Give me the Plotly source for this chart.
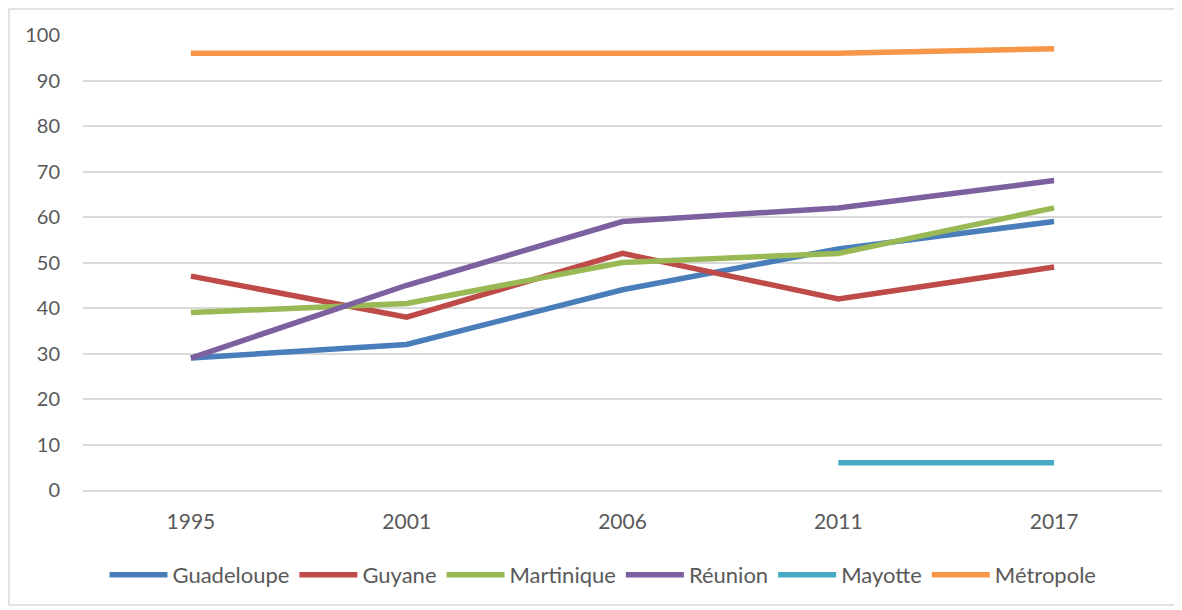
import plotly.graph_objects as go

years = ["1995", "2001", "2006", "2011", "2017"]
guadeloupe = [29, 32, 44, 53, 59]
guyane = [47, 38, 52, 42, 49]
martinique = [39, 41, 50, 52, 62]
reunion = [29, 45, 59, 62, 68]
mayotte = [None, None, None, 6, 6]
metropole = [96, 96, 96, 96, 97]

series = [
    ("Guadeloupe", guadeloupe, "#4a7ebb"),
    ("Guyane", guyane, "#be4b48"),
    ("Martinique", martinique, "#98b954"),
    ("Réunion", reunion, "#7d60a0"),
    ("Mayotte", mayotte, "#46aac5"),
    ("Métropole", metropole, "#f79646"),
]

fig = go.Figure()
for name, vals, color in series:
    fig.add_trace(go.Scatter(
        x=years, y=vals, name=name, mode="lines",
        line=dict(color=color, width=5.5),
        connectgaps=False,
    ))

OFF = 8  # page body margin
W, H = 1182 - OFF, 610 - OFF
ml, mt = 83 - OFF, 35 - OFF
pw, ph = 1162 - 83, 490 - 35
mr = W - ml - pw
mb = H - mt - ph

def px_x(x):
    return (x - 83) / pw

def px_y(y):
    return (490 - y) / ph

fig.update_layout(
    width=W, height=H,
    margin=dict(l=ml, r=mr, t=mt, b=mb),
    paper_bgcolor="white", plot_bgcolor="white",
    font=dict(family="Lato, Open Sans, sans-serif", size=21, color="#595959"),
    showlegend=True,
    legend=dict(
        orientation="h", x=px_x(603), xanchor="center",
        y=px_y(575), yanchor="middle",
        font=dict(size=22, color="#595959"),
        itemwidth=58, tracegroupgap=0,
    ),
    xaxis=dict(
        type="category", range=[-0.5, 4.5],
        showgrid=False, showline=True, linecolor="#d9d9d9", linewidth=1.5,
        ticks="", tickfont=dict(size=21, color="#595959"),
        zeroline=False, ticklabelstandoff=12,
    ),
    yaxis=dict(
        range=[0, 100], dtick=10, tick0=0,
        showgrid=True, gridcolor="#d9d9d9", gridwidth=1.5,
        zeroline=False, showline=False, ticks="",
        tickfont=dict(size=20, color="#595959"),
        ticklabelstandoff=22,
    ),
    shapes=[dict(
        type="rect", xref="paper", yref="paper",
        x0=px_x(9), x1=px_x(1175),
        y0=px_y(605), y1=px_y(9),
        line=dict(color="#d9d9d9", width=1.5), fillcolor="rgba(0,0,0,0)",
        layer="below",
    )],
)

fig.write_html("out.html")
